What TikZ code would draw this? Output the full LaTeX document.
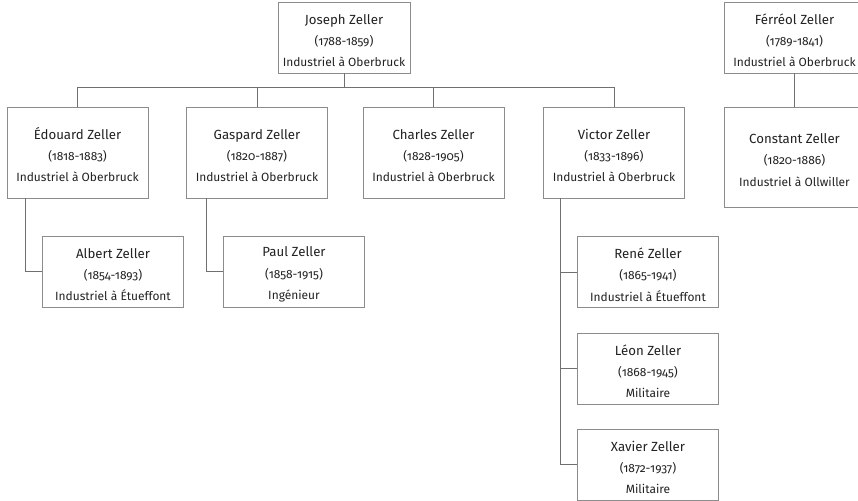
\documentclass[tikz,border=0pt]{standalone}
\usepackage{fontspec}
\setmainfont{Fira Sans}[Numbers=OldStyle]
\definecolor{txt}{HTML}{222222}
\definecolor{brd}{HTML}{8C8C8C}
\definecolor{lnk}{HTML}{707070}
\newcommand\zperson[3]{\rule{0pt}{16bp}{\fontsize{13.3}{21.5}\selectfont #1}\\#2\\#3}
\begin{document}
\begin{tikzpicture}[x=1bp,y=-1bp,
  person/.style={draw=brd, line width=0.8bp, fill=white, text=txt, align=center,
    inner sep=0pt, minimum width=141bp, minimum height=71bp,
    font=\fontsize{12}{21.5}\selectfont},
  tall/.style={minimum height=91bp},
  taller/.style={minimum height=100bp},
  link/.style={draw=lnk, line width=0.8bp}]
\useasboundingbox (0,0) rectangle (858,501);
\clip (0,0) rectangle (858,501);
% generation 1
\node[person, minimum width=132bp] (joseph) at (344,37.5) {\zperson{Joseph Zeller}{(1788-1859)}{Industriel à Oberbruck}};
\node[person] (ferreol) at (794.5,37.5) {\zperson{Férréol Zeller}{(1789-1841)}{Industriel à Oberbruck}};
% generation 2
\node[person, tall] (edouard) at (77.5,152.5) {\zperson{Édouard Zeller}{(1818-1883)}{Industriel à Oberbruck}};
\node[person, tall] (gaspard) at (257,152.5) {\zperson{Gaspard Zeller}{(1820-1887)}{Industriel à Oberbruck}};
\node[person, tall] (charles) at (433.5,152.5) {\zperson{Charles Zeller}{(1828-1905)}{Industriel à Oberbruck}};
\node[person, tall] (victor) at (614,152.5) {\zperson{Victor Zeller}{(1833-1896)}{Industriel à Oberbruck}};
\node[person, taller] (constant) at (794.5,157) {\zperson{Constant Zeller}{(1820-1886)}{Industriel à Ollwiller}};
% generation 3
\node[person] (albert) at (113,271.5) {\zperson{Albert Zeller}{(1854-1893)}{Industriel à Étueffont}};
\node[person] (paul) at (294,271.5) {\zperson{Paul Zeller}{(1858-1915)}{Ingénieur}};
\node[person] (rene) at (648,272) {\zperson{René Zeller}{(1865-1941)}{Industriel à Étueffont}};
\node[person] (leon) at (648,368.5) {\zperson{Léon Zeller}{(1868-1945)}{Militaire}};
\node[person] (xavier) at (648,464.5) {\zperson{Xavier Zeller}{(1872-1937)}{Militaire}};
% connectors
\coordinate (bar) at ([yshift=-14bp]joseph.south);
\draw[link] (joseph.south) -- (bar);
\draw[link] (edouard.north) |- (bar) -| (victor.north);
\draw[link] (gaspard.north) -- (gaspard.north |- bar);
\draw[link] (charles.north) -- (charles.north |- bar);
\draw[link] (ferreol.south) -- (constant.north);
\draw[link] ([xshift=19bp]edouard.south west) |- (albert.west);
\draw[link] ([xshift=20bp]gaspard.south west) |- (paul.west);
\draw[link] ([xshift=17bp]victor.south west) |- (xavier.west);
\draw[link] (rene.west) -- ++(-17bp,0);
\draw[link] (leon.west) -- ++(-17bp,0);
\end{tikzpicture}
\end{document}
